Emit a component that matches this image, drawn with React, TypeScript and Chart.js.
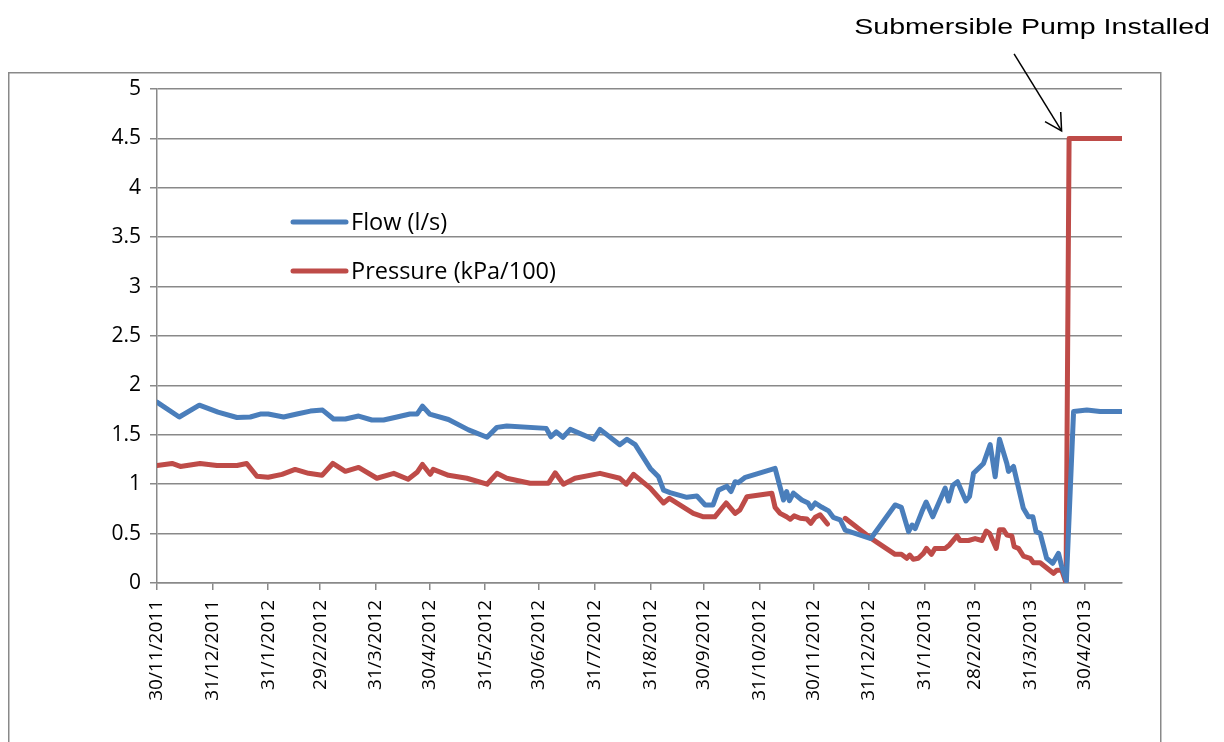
import React, { useEffect, useRef } from "react";
import { Chart, registerables } from "chart.js";

Chart.register(...registerables);

// X axis: days since 30/11/2011
const TICK_DAYS = [0, 31, 62, 91, 122, 152, 183, 213, 244, 275, 305, 336, 366, 397, 428, 456, 487, 517];
const TICK_LABELS = [
  "30/11/2011", "31/12/2011", "31/1/2012", "29/2/2012", "31/3/2012", "30/4/2012",
  "31/5/2012", "30/6/2012", "31/7/2012", "31/8/2012", "30/9/2012", "31/10/2012",
  "30/11/2012", "31/12/2012", "31/1/2013", "28/2/2013", "31/3/2013", "30/4/2013",
];
const X_MIN_DAY = 0;
const X_MAX_DAY = 538;

const Y_TICKS = [0, 0.5, 1, 1.5, 2, 2.5, 3, 3.5, 4, 4.5, 5];
const Y_TICK_LABELS = ["0", "0.5", "1", "1.5", "2", "2.5", "3", "3.5", "4", "4.5", "5"];

const SERIES_NAMES = ["Flow (l/s)", "Pressure (kPa/100)"];

const FLOW_DAYS = [
  0, 12.4, 23.6, 34, 44.6, 52, 57.6, 62, 70.6, 78, 85.5, 92.3, 98.4, 105, 112.4, 119.8, 126.3, 133.8,
  141, 145, 148, 152, 162.5, 173.7, 184, 189.5, 195, 217, 219.6, 222.6, 226.3, 230.4, 243.4, 247,
  258, 262, 266.6, 275, 279.6, 282.4, 286, 295.4, 301, 305.6, 310, 313, 317.7, 320, 322.3, 324, 328,
  344.6, 349.3, 351, 352.6, 354.8, 359.5, 363, 364.7, 367, 370.7, 374.4, 377, 380.9, 383.7, 398,
  411.5, 415, 419, 421, 422.7, 426.4, 428.8, 432.5, 439.4, 441.3, 443.7, 446.3, 451, 453, 455.2,
  460.8, 464.5, 467.3, 469.7, 473.8, 474.7, 477.5, 483, 485.8, 488.3, 490.1, 492.4, 496, 499.4,
  502.6, 504.4, 507, 511, 518.4, 525.8, 538,
];
const FLOW_VALUES = [
  1.83, 1.68, 1.80, 1.73, 1.675, 1.68, 1.71, 1.71, 1.68, 1.71, 1.74, 1.75, 1.66, 1.66, 1.69, 1.65, 1.65, 1.68,
  1.71, 1.71, 1.79, 1.71, 1.655, 1.55, 1.475, 1.575, 1.59, 1.565, 1.48, 1.53, 1.475, 1.555, 1.455, 1.555,
  1.40, 1.455, 1.40, 1.16, 1.075, 0.94, 0.915, 0.867, 0.88, 0.79, 0.79, 0.94, 0.98, 0.925, 1.025, 1.015, 1.07,
  1.16, 0.84, 0.925, 0.833, 0.91, 0.84, 0.81, 0.756, 0.81, 0.766, 0.73, 0.665, 0.64, 0.536, 0.45,
  0.79, 0.765, 0.52, 0.587, 0.55, 0.72, 0.82, 0.67, 0.96, 0.83, 0.99, 1.025, 0.83, 0.875, 1.11,
  1.21, 1.40, 1.075, 1.455, 1.21, 1.13, 1.18, 0.756, 0.67, 0.67, 0.52, 0.50, 0.25, 0.20,
  0.30, 0.165, 0.02, 1.735, 1.75, 1.735, 1.735,
];

const PRESSURE_DAYS = [
  0, 8.4, 13, 24, 33.4, 44.6, 50, 55.7, 62, 69.7, 77, 84.5, 92, 98, 105, 112.4, 122.6, 132,
  140, 145, 148, 152.3, 154, 162.5, 172.8, 184, 189.5, 195, 208, 218.3, 222, 226.6, 233, 247,
  258, 261.6, 265.7, 275, 282.4, 285.7, 299, 304.7, 311, 317.3, 322.3, 325, 328.9, 342.8, 344.6,
  347.4, 351, 353, 355.2, 358.6, 362.3, 364.5, 367, 369.7, 373.8, 378, 383.7, 397.5,
  411.5, 415, 418, 419.7, 421.6, 424.4, 427.3, 429, 431.8, 433.7, 439.4, 441.8, 446, 447.7,
  452.4, 456.1, 459.9, 462.3, 464.2, 467.9, 469.7, 471.9, 473.8, 476.6, 477.9, 480.3, 483,
  486.8, 488.6, 492.4, 499.8, 501.7, 504.4, 506.8, 508.5, 538,
];
const PRESSURE_VALUES = [
  1.19, 1.21, 1.18, 1.21, 1.19, 1.19, 1.21, 1.08, 1.07, 1.10, 1.15, 1.11, 1.09, 1.21, 1.13, 1.17, 1.06, 1.11,
  1.05, 1.12, 1.20, 1.10, 1.15, 1.09, 1.06, 1.00, 1.11, 1.06, 1.01, 1.01, 1.115, 1.00, 1.06, 1.11,
  1.06, 1.00, 1.10, 0.96, 0.81, 0.857, 0.705, 0.67, 0.67, 0.81, 0.705, 0.74, 0.873, 0.908, 0.766,
  0.705, 0.67, 0.645, 0.68, 0.655, 0.648, 0.604, 0.665, 0.69, 0.597, null, 0.655, 0.46,
  0.29, 0.29, 0.25, 0.283, 0.24, 0.25, 0.30, 0.35, 0.29, 0.35, 0.35, 0.385, 0.476, 0.43,
  0.43, 0.45, 0.43, 0.526, 0.50, 0.35, 0.54, 0.54, 0.486, 0.476, 0.367, 0.35, 0.273,
  0.25, 0.205, 0.205, 0.098, 0.13, 0.13, 0.0, 4.5, 4.5,
];

const ANNOTATION_TEXT = "Submersible Pump Installed";
const PUMP_DAY = 508.5;
const PUMP_VALUE = 4.5;

const FLOW_COLOR = "#4A7EBB";
const PRESSURE_COLOR = "#BE4B48";
const GRID_COLOR = "#898989";
const X_TICK_FONT = { family: "'Open Sans', sans-serif", size: 19 };
const Y_TICK_FONT = { family: "'Open Sans', sans-serif", size: 21 };

const decorPlugin = {
  id: "decor",
  beforeDraw(chart: any) {
    const ctx = chart.ctx;
    ctx.save();
    ctx.fillStyle = "#ffffff";
    ctx.fillRect(0, 0, chart.width, chart.height);
    ctx.strokeStyle = GRID_COLOR;
    ctx.lineWidth = 1.5;
    ctx.strokeRect(8.75, 72.75, 1152, 720);
    ctx.restore();
  },
  afterDraw(chart: any) {
    const ctx = chart.ctx;
    const xs = chart.scales.x;
    const ys = chart.scales.y;
    ctx.save();
    // legend
    const legendY = [222, 271];
    chart.data.datasets.forEach((ds: any, i: number) => {
      const y = legendY[i];
      ctx.strokeStyle = ds.borderColor;
      ctx.lineWidth = 5;
      ctx.lineCap = "round";
      ctx.beginPath();
      ctx.moveTo(293, y);
      ctx.lineTo(346, y);
      ctx.stroke();
      ctx.fillStyle = "#000";
      ctx.font = "23.5px 'Open Sans', sans-serif";
      ctx.textAlign = "left";
      ctx.textBaseline = "middle";
      ctx.fillText(ds.label, 351, y + 1);
    });
    // annotation text
    ctx.save();
    ctx.font = "22.5px 'Liberation Sans', Arial, sans-serif";
    ctx.fillStyle = "#000";
    ctx.textAlign = "right";
    ctx.textBaseline = "alphabetic";
    const sx = 1.27;
    ctx.scale(sx, 1);
    ctx.fillText(ANNOTATION_TEXT, 1210 / sx, 33.5);
    ctx.restore();
    // arrow
    const tipX = xs.getPixelForValue(PUMP_DAY) - 7.5;
    const tipY = ys.getPixelForValue(PUMP_VALUE) - 7.5;
    const sxp = tipX - 47.5;
    const syp = tipY - 77;
    ctx.strokeStyle = "#000";
    ctx.lineWidth = 1.5;
    ctx.lineCap = "butt";
    ctx.beginPath();
    ctx.moveTo(sxp, syp);
    ctx.lineTo(tipX, tipY);
    ctx.stroke();
    const ang = Math.atan2(tipY - syp, tipX - sxp);
    const L = 19;
    const spread = (29 * Math.PI) / 180;
    ctx.beginPath();
    ctx.moveTo(tipX - L * Math.cos(ang - spread), tipY - L * Math.sin(ang - spread));
    ctx.lineTo(tipX, tipY);
    ctx.lineTo(tipX - L * Math.cos(ang + spread), tipY - L * Math.sin(ang + spread));
    ctx.stroke();
    ctx.restore();
  },
};

export default function App() {
  const canvasRef = useRef<HTMLCanvasElement | null>(null);

  useEffect(() => {
    if (!canvasRef.current) return;
    const flowData = FLOW_DAYS.map((d, i) => ({ x: d, y: FLOW_VALUES[i] }));
    const pressureData = PRESSURE_DAYS.map((d, i) => ({ x: d, y: PRESSURE_VALUES[i] }));
    const lineStyle = {
      borderWidth: 5,
      pointRadius: 0,
      tension: 0,
      borderJoinStyle: "round",
      borderCapStyle: "round",
      spanGaps: false,
    };
    const chart = new Chart(canvasRef.current, {
      type: "line",
      data: {
        datasets: [
          { label: SERIES_NAMES[0], data: flowData, borderColor: FLOW_COLOR, backgroundColor: FLOW_COLOR, ...lineStyle },
          { label: SERIES_NAMES[1], data: pressureData, borderColor: PRESSURE_COLOR, backgroundColor: PRESSURE_COLOR, ...lineStyle },
        ],
      },
      options: {
        responsive: false,
        animation: false,
        events: [],
        layout: { padding: { left: 0, right: 102, top: 89, bottom: 0 } },
        plugins: { legend: { display: false }, tooltip: { enabled: false } },
        scales: {
          x: {
            type: "linear",
            min: X_MIN_DAY,
            max: X_MAX_DAY,
            afterBuildTicks: (s: any) => {
              s.ticks = TICK_DAYS.map((v) => ({ value: v }));
            },
            afterFit: (s: any) => {
              s.height = 159;
            },
            ticks: {
              autoSkip: false,
              maxRotation: 90,
              minRotation: 90,
              padding: 10,
              color: "#000",
              font: X_TICK_FONT,
              callback: (_v: any, i: number) => TICK_LABELS[i],
            },
            grid: {
              drawOnChartArea: false,
              drawTicks: true,
              tickLength: 7,
              color: GRID_COLOR,
              lineWidth: 1.5,
            },
            border: { display: true, color: GRID_COLOR, width: 1.5 },
          },
          y: {
            type: "linear",
            min: 0,
            max: 5,
            afterBuildTicks: (s: any) => {
              s.ticks = Y_TICKS.map((v) => ({ value: v }));
            },
            afterFit: (s: any) => {
              s.width = 157;
            },
            ticks: {
              padding: 9,
              color: "#000",
              font: Y_TICK_FONT,
              callback: (_v: any, i: number) => Y_TICK_LABELS[i],
            },
            grid: {
              drawTicks: true,
              tickLength: 7,
              color: GRID_COLOR,
              lineWidth: 1.5,
            },
            border: { display: true, color: GRID_COLOR, width: 1.5 },
          },
        },
      },
      plugins: [decorPlugin],
    } as any);
    return () => chart.destroy();
  }, []);

  return (
    <div style={{ position: "absolute", left: 0, top: 0, width: 1224, height: 742, background: "#fff" }}>
      <canvas ref={canvasRef} width={1224} height={742} style={{ display: "block", width: 1224, height: 742 }} />
    </div>
  );
}
